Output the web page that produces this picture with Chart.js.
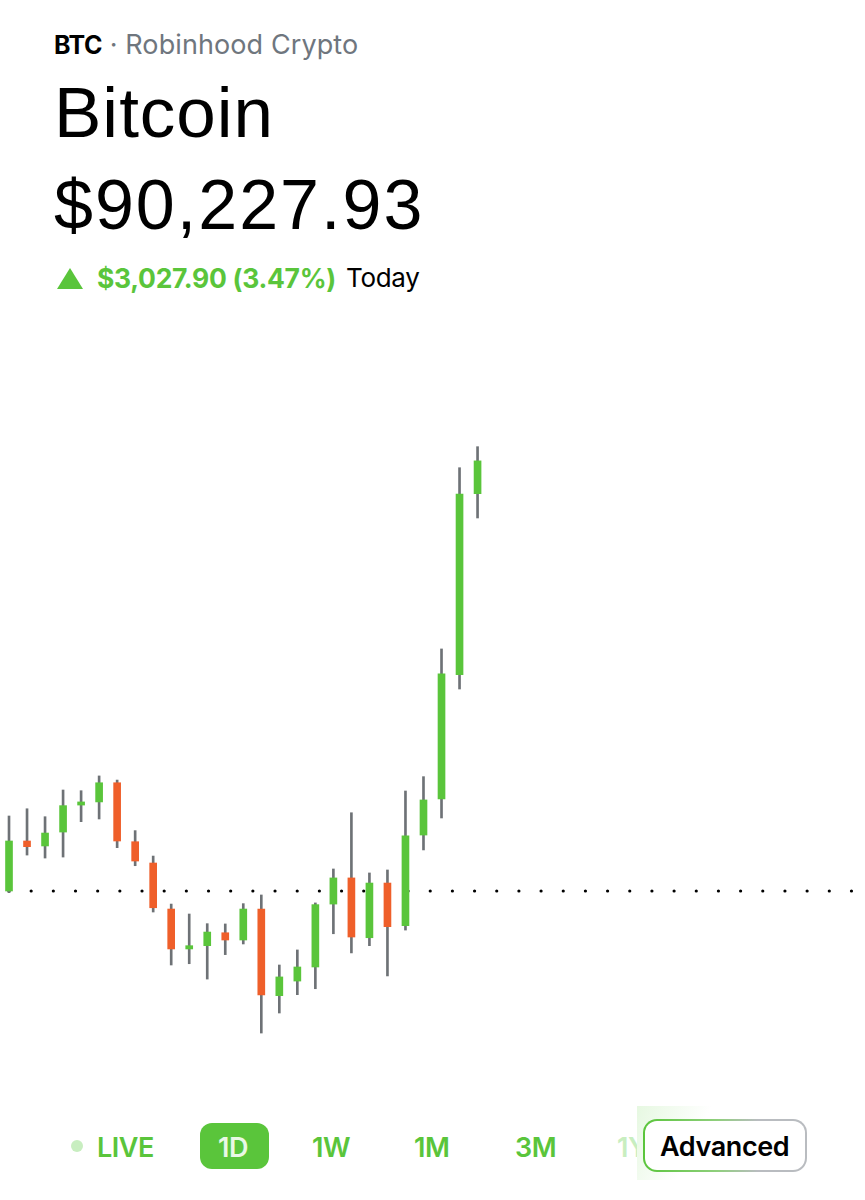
<!DOCTYPE html>
<html>
<head>
<meta charset="utf-8">
<title>Bitcoin</title>
<script src="https://cdn.jsdelivr.net/npm/chart.js@4"></script>
<style>
  html, body { margin: 0; padding: 0; background: #fff; }
  body { width: 865px; height: 1200px; position: relative; overflow: hidden; font-family: Inter, sans-serif; color: #000; }
  .txt { position: absolute; white-space: nowrap; line-height: 1; }
  canvas { position: absolute; left: 0; top: 340px; }
  #symbol { left: 54px; top: 31px; font-size: 27px; color: #6f767e; letter-spacing: 0.1px; }
  #symbol b { color: #000; font-weight: 700; font-size: 25px; letter-spacing: -0.5px; }
  #name { left: 54px; top: 77px; font-size: 71px; letter-spacing: 1px; font-family: "Liberation Sans", sans-serif; }
  #price { left: 54px; top: 170px; font-size: 70px; letter-spacing: 2px; font-family: "Liberation Sans", sans-serif; }
  #arrow { position: absolute; left: 57px; top: 268px; width: 0; height: 0; border-left: 13px solid transparent; border-right: 13px solid transparent; border-bottom: 21px solid #5ac53b; }
  #change { left: 97px; top: 265px; font-size: 26.5px; font-weight: 700; color: #5ac53b; letter-spacing: -0.3px; }
  #today { left: 346px; top: 265px; font-size: 26px; letter-spacing: -0.3px; }
  .range { top: 1134px; font-size: 27px; font-weight: 600; color: #5ac53b; letter-spacing: -0.5px; }
  #live-dot { position: absolute; left: 71px; top: 1140px; width: 12px; height: 12px; border-radius: 50%; background: #c8eec0; }
  #pill { position: absolute; left: 200px; top: 1123px; width: 69px; height: 46px; border-radius: 12px; background: #5ac53b; }
  #glow { position: absolute; left: 637px; top: 1106px; width: 90px; height: 74px; background: linear-gradient(115deg, #e6f8e1 0%, #ffffff 60%); }
  #advanced { position: absolute; left: 643px; top: 1119px; width: 164px; height: 53px; box-sizing: border-box; border-radius: 14px; border: 2px solid transparent;
    background: linear-gradient(#fff, #fff) padding-box, linear-gradient(90deg, #5ac53b 0%, #8fcf7c 45%, #b9bcc0 70%, #b9bcc0 100%) border-box; }
  #advanced-label { left: 660px; top: 1133px; font-size: 27px; font-weight: 600; letter-spacing: -0.4px; }
</style>
</head>
<body>
<div class="txt" id="symbol"><b>BTC</b> · Robinhood Crypto</div>
<div class="txt" id="name">Bitcoin</div>
<div class="txt" id="price">$90,227.93</div>
<div id="arrow"></div>
<div class="txt" id="change">$3,027.90 (3.47%)</div>
<div class="txt" id="today">Today</div>

<canvas id="candles" width="865" height="760"></canvas>

<div id="live-dot"></div>
<div class="txt range" style="left:97px">LIVE</div>
<div id="pill"></div>
<div class="txt range" style="left:218px;color:#e9f8e5">1D</div>
<div class="txt range" style="left:312px">1W</div>
<div class="txt range" style="left:414px">1M</div>
<div class="txt range" style="left:515px">3M</div>
<div class="txt range" style="left:617px;color:#c8eec0">1Y</div>
<div id="glow"></div>
<div id="advanced"></div>
<div class="txt" id="advanced-label">Advanced</div>

<script>
const opens  = [87200, 87552, 87517, 87615, 87805, 87827, 87962, 87547, 87397, 87073, 86792, 86815, 86906, 86855, 87073, 86463, 86566, 86665, 87108, 87292, 86871, 87256, 86956, 87594, 87848, 88723, 89997];
const closes = [87552, 87512, 87608, 87801, 87827, 87962, 87552, 87411, 87082, 86792, 86815, 86911, 86855, 87073, 86468, 86595, 86665, 87104, 87292, 86876, 87256, 86949, 87589, 87841, 88728, 89995, 90228];
const highs  = [87728, 87779, 87723, 87911, 87906, 88010, 87981, 87625, 87446, 87108, 87038, 86970, 86968, 87111, 87172, 86679, 86785, 87116, 87355, 87751, 87327, 87348, 87904, 88005, 88904, 90180, 90328];
const lows   = [87188, 87453, 87432, 87439, 87688, 87707, 87505, 87378, 87052, 86679, 86688, 86580, 86752, 86827, 86200, 86341, 86470, 86512, 86899, 86764, 86815, 86602, 86925, 87489, 87714, 88622, 89826];
const previousClose = 87200.03;
const sessionSlots = 48; // the day is not over yet, the right side stays empty

const GREEN = '#5ac53b';
const RED = '#ef5f2a';
const WICK = '#6e7276';

const labels = [];
for (let i = 0; i < sessionSlots; i++) labels.push(String(i));

// Dotted previous close line, sits under the candles
const previousClosePlugin = {
  id: 'previousClose',
  beforeDatasetsDraw: function (chart) {
    const ctx = chart.ctx;
    const y = chart.scales.y.getPixelForValue(previousClose);
    ctx.save();
    ctx.strokeStyle = '#000';
    ctx.lineWidth = 3.2;
    ctx.lineCap = 'round';
    ctx.setLineDash([0, 22.17]);
    ctx.beginPath();
    ctx.moveTo(9, y);
    ctx.lineTo(chart.width, y);
    ctx.stroke();
    ctx.restore();
  }
};

new Chart(document.getElementById('candles').getContext('2d'), {
  type: 'bar',
  data: {
    labels: labels,
    datasets: [
      {
        label: 'Body',
        data: opens.map((o, i) => [o, closes[i]]),
        backgroundColor: opens.map((o, i) => closes[i] >= o ? GREEN : RED),
        barThickness: 7,
        grouped: false,
        order: 1
      },
      {
        label: 'Wick',
        data: highs.map((h, i) => [lows[i], h]),
        backgroundColor: WICK,
        barThickness: 2,
        grouped: false,
        order: 2
      }
    ]
  },
  options: {
    responsive: false,
    animation: false,
    layout: { padding: 0 },
    plugins: { legend: { display: false }, tooltip: { enabled: false } },
    scales: {
      x: { display: false, offset: true, grid: { display: false } },
      y: { display: false, min: 85728.6, max: 91079, grid: { display: false } }
    }
  },
  plugins: [previousClosePlugin]
});
</script>
</body>
</html>
